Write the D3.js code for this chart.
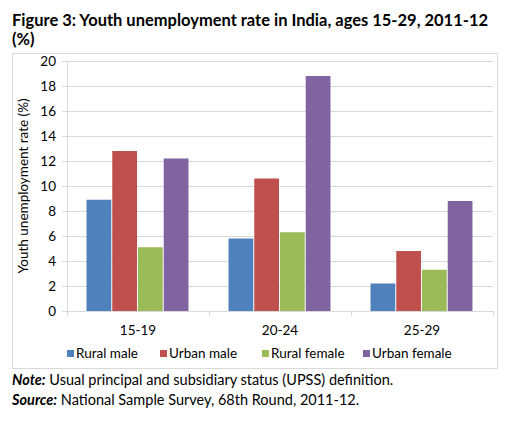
<!DOCTYPE html>
<html><head><meta charset="utf-8">
<script src="https://cdn.jsdelivr.net/npm/d3@7"></script>
<style>body{margin:0;background:#fff;font-family:Lato,"Open Sans",sans-serif;}</style>
</head><body><svg id="c" width="508" height="421"></svg>
<script>
const categories = ["15-19","20-24","25-29"];
const seriesNames = ["Rural male","Urban male","Rural female","Urban female"];
const ruralMale = [8.9,5.8,2.2];
const urbanMale = [12.8,10.6,4.8];
const ruralFemale = [5.1,6.3,3.3];
const urbanFemale = [12.2,18.8,8.8];
const yTicks = [0,2,4,6,8,10,12,14,16,18,20];
const colors = ["#4F81BD","#C0504D","#9BBB59","#8064A2"];
const seriesValues = [ruralMale,urbanMale,ruralFemale,urbanFemale];

const svg = d3.select("#c");
const font = "Lato, 'Open Sans', sans-serif";
svg.append("text").attr("x",12).attr("y",26).attr("font-size",16.4).attr("font-weight","bold").attr("font-family",font)
  .attr("textLength",476).attr("lengthAdjust","spacingAndGlyphs")
  .text("Figure 3: Youth unemployment rate in India, ages 15-29, 2011-12");
svg.append("text").attr("x",12).attr("y",45).attr("font-size",16.4).attr("font-weight","bold").attr("font-family",font)
  .text("(%)");
svg.append("rect").attr("x",12.5).attr("y",53.5).attr("width",485).attr("height",315).attr("fill","none").attr("stroke","#d9d9d9");

const x0 = d3.scaleBand().domain(categories).range([67,493]).paddingInner(0.275).paddingOuter(0.1375);
const x1 = d3.scaleBand().domain(seriesNames).range([0,x0.bandwidth()]);
const y = d3.scaleLinear().domain([0,20]).range([311,61]);

// gridlines
svg.append("g").selectAll("line").data(yTicks.filter(t=>t>0)).join("line")
  .attr("x1",67).attr("x2",493).attr("y1",d=>Math.round(y(d))+0.5).attr("y2",d=>Math.round(y(d))+0.5)
  .attr("stroke","#d9d9d9").attr("stroke-width",1);

// bars
const rows = categories.map((c,i)=>({c, vals: seriesNames.map((s,j)=>({s, v: seriesValues[j][i], col: colors[j]}))}));
svg.append("g").selectAll("g").data(rows).join("g").attr("transform",d=>`translate(${x0(d.c)},0)`)
  .selectAll("rect").data(d=>d.vals).join("rect")
  .attr("x",d=>x1(d.s)).attr("width",x1.bandwidth()-1).attr("y",d=>y(d.v)).attr("height",d=>y(0)-y(d.v)).attr("fill",d=>d.col);

// y axis
const ya = svg.append("g").attr("transform","translate(67,0)").call(d3.axisLeft(y).tickValues(yTicks).tickSize(5).tickPadding(6));
ya.select(".domain").attr("stroke","#d9d9d9");
ya.selectAll(".tick line").attr("stroke","#d9d9d9");
ya.selectAll("text").attr("font-size",13.5).attr("font-family",font).attr("fill","#000");

// x axis
const xa = svg.append("g");
xa.append("line").attr("x1",67).attr("x2",493).attr("y1",311.5).attr("y2",311.5).attr("stroke","#d9d9d9");
const xb = d3.scaleBand().domain(categories).range([67,493]);
xa.selectAll(".xt").data(d3.range(categories.length+1)).join("line").attr("class","xt")
  .attr("x1",i=>Math.round(67+i*xb.step())+0.5).attr("x2",i=>Math.round(67+i*xb.step())+0.5)
  .attr("y1",311).attr("y2",316).attr("stroke","#d9d9d9");
xa.selectAll("text").data(categories).join("text")
  .attr("x",d=>xb(d)+xb.bandwidth()/2).attr("y",335).attr("text-anchor","middle")
  .attr("font-size",13.5).attr("font-family",font).text(d=>d);

// y title
svg.append("text").attr("transform","translate(28,186) rotate(-90)").attr("text-anchor","middle")
  .attr("font-size",13.5).attr("font-family",font).text("Youth unemployment rate (%)");

// legend
const legX = [67,160,262,363];
const lg = svg.append("g").selectAll("g").data(seriesNames).join("g").attr("transform",(d,i)=>`translate(${legX[i]},0)`);
lg.append("rect").attr("x",0).attr("y",350).attr("width",7).attr("height",7).attr("fill",(d,i)=>colors[i]);
lg.append("text").attr("x",9).attr("y",358).attr("font-size",13.5).attr("font-family",font).text(d=>d);

// notes
const n1 = svg.append("text").attr("x",12).attr("y",385).attr("font-size",14.5).attr("font-family",font);
n1.append("tspan").attr("font-weight","bold").attr("font-style","italic").text("Note:");
n1.append("tspan").text(" Usual principal and subsidiary status (UPSS) definition.");
const n2 = svg.append("text").attr("x",12).attr("y",405).attr("font-size",14.5).attr("font-family",font);
n2.append("tspan").attr("font-weight","bold").attr("font-style","italic").text("Source:");
n2.append("tspan").text(" National Sample Survey, 68th Round, 2011-12.");
</script></body></html>
